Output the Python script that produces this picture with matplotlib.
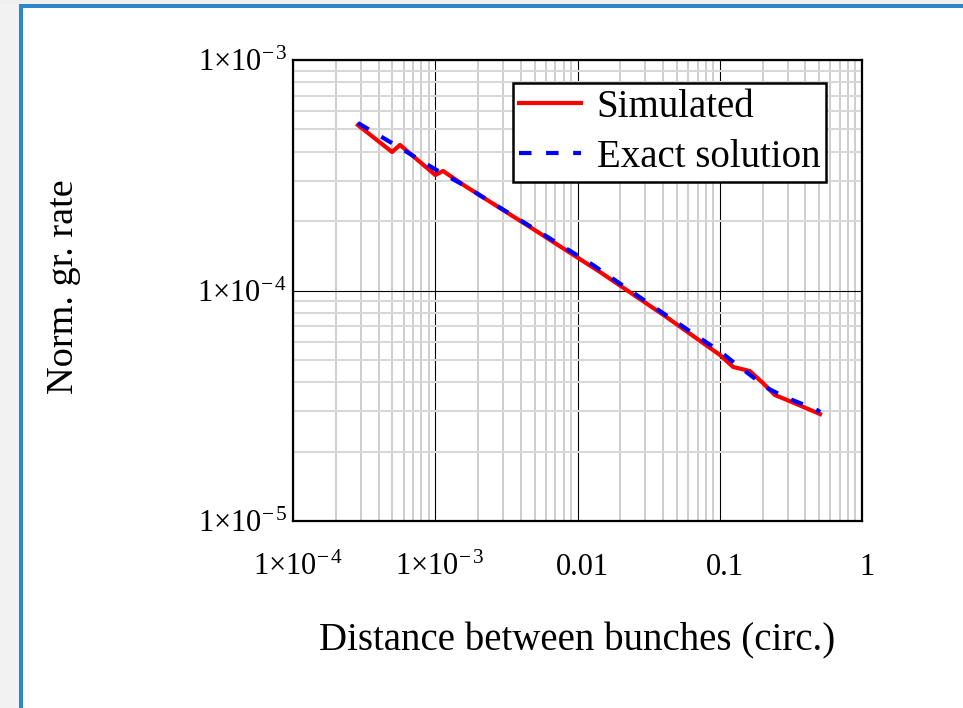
import numpy as np
import matplotlib
matplotlib.use('Agg')
import matplotlib.pyplot as plt
import matplotlib.transforms as mtransforms
from matplotlib.patches import Rectangle
from matplotlib.ticker import LogLocator, NullFormatter

plt.rcParams['font.family'] = 'Liberation Serif'
plt.rcParams['mathtext.fontset'] = 'custom'
plt.rcParams['mathtext.rm'] = 'Liberation Serif'
plt.rcParams['mathtext.it'] = 'Liberation Serif:italic'
plt.rcParams['mathtext.bf'] = 'Liberation Serif:bold'

# growth rate vs. bunch spacing
sim_dist = [2.86e-4, 4.97e-4, 5.65e-4, 1.0e-3, 1.134e-3, 1.62e-3, 4.63e-3,
            0.01439, 0.0412, 0.1004, 0.124, 0.163, 0.201, 0.244, 0.297, 0.507]
sim_rate = [5.22e-4, 3.99e-4, 4.28e-4, 3.17e-4, 3.30e-4, 2.84e-4, 1.886e-4,
            1.203e-4, 7.75e-5, 5.25e-5, 4.66e-5, 4.47e-5, 3.97e-5, 3.52e-5,
            3.35e-5, 2.91e-5]

exact_dist = [2.86e-4, 5.84e-4, 9.64e-4, 1.62e-3, 4.49e-3, 0.01285, 0.0362,
              0.1037, 0.1322, 0.1713, 0.222, 0.2876, 0.483, 0.507]
exact_rate = [5.33e-4, 4.11e-4, 3.40e-4, 2.84e-4, 1.924e-4, 1.29e-4, 8.31e-5,
              5.36e-5, 4.75e-5, 4.21e-5, 3.74e-5, 3.45e-5, 3.03e-5, 2.97e-5]

xticks = [1e-4, 1e-3, 1e-2, 1e-1, 1]
xlabels = [r'$1{\times}10^{-\,4}$', r'$1{\times}10^{-\,3}$', '0.01', '0.1', '1']
yticks = [1e-5, 1e-4, 1e-3]
ylabels = [r'$1{\times}10^{-\,5}$', r'$1{\times}10^{-\,4}$', r'$1{\times}10^{-\,3}$']

fig = plt.figure(figsize=(9.63, 7.08), dpi=100)
W, H = 963, 708

# window frame
fig.add_artist(Rectangle((0, 0), 19 / W, 1, transform=fig.transFigure,
                         color='#f2f2f2', lw=0, zorder=-5))
fig.add_artist(Rectangle((0, 1 - 4 / H), 1, 4 / H, transform=fig.transFigure,
                         color='#efefef', lw=0, zorder=-5))
fig.add_artist(Rectangle((19 / W, 0), 4 / W, 1 - 4 / H, transform=fig.transFigure,
                         color='#2d86c7', lw=0, zorder=-4))
fig.add_artist(Rectangle((19 / W, 1 - 8 / H), 1, 4 / H, transform=fig.transFigure,
                         color='#2d86c7', lw=0, zorder=-4))

ax = fig.add_axes([293 / W, 1 - 521 / H, 569 / W, 461 / H])
ax.set_xscale('log')
ax.set_yscale('log')
ax.set_xlim(1e-4, 1)
ax.set_ylim(1e-5, 1e-3)

ax.plot(sim_dist, sim_rate, color='red', lw=3, label='Simulated', zorder=3)
ax.plot(exact_dist, exact_rate, color='blue', lw=3, ls=(0, (3, 3.5)),
        label='Exact solution', zorder=4)

ax.xaxis.set_minor_locator(LogLocator(base=10, subs=np.arange(2, 10)))
ax.yaxis.set_minor_locator(LogLocator(base=10, subs=np.arange(2, 10)))
ax.xaxis.set_minor_formatter(NullFormatter())
ax.yaxis.set_minor_formatter(NullFormatter())
ax.set_xticks(xticks, xlabels)
ax.set_yticks(yticks, ylabels)

ax.grid(which='major', color='black', lw=0.8)
ax.grid(which='minor', axis='x', color='#c0c0c0', lw=1.1)
ax.grid(which='minor', axis='y', color='#d8d8d8', lw=1.5)
ax.set_axisbelow(True)

ax.tick_params(which='both', length=0)
ax.tick_params(axis='x', labelsize=22, pad=39)
ax.tick_params(axis='y', labelsize=22, pad=4)
shift = mtransforms.ScaledTranslation(5 / 100, 0, fig.dpi_scale_trans)
for lab in ax.get_xticklabels():
    lab.set_verticalalignment('baseline')
    lab.set_transform(lab.get_transform() + shift)

for s in ax.spines.values():
    s.set_linewidth(1.6)
    s.set_color('black')

ax.set_xlabel('Distance between bunches (circ.)', fontsize=28)
ax.xaxis.set_label_coords(0.5, -0.219)
ax.set_ylabel('Norm. gr. rate', fontsize=27.5)
ax.yaxis.set_label_coords(-0.372, 0.508)

leg = ax.legend(loc='upper left', bbox_to_anchor=((513 - 293) / 569, 0.9501),
                borderaxespad=0, fontsize=28, fancybox=False, framealpha=1,
                edgecolor='black', handlelength=1.6, handletextpad=0.4,
                borderpad=0.15, labelspacing=0.34)
leg.get_frame().set_linewidth(1.8)

fig.savefig('out.png', dpi=100)
